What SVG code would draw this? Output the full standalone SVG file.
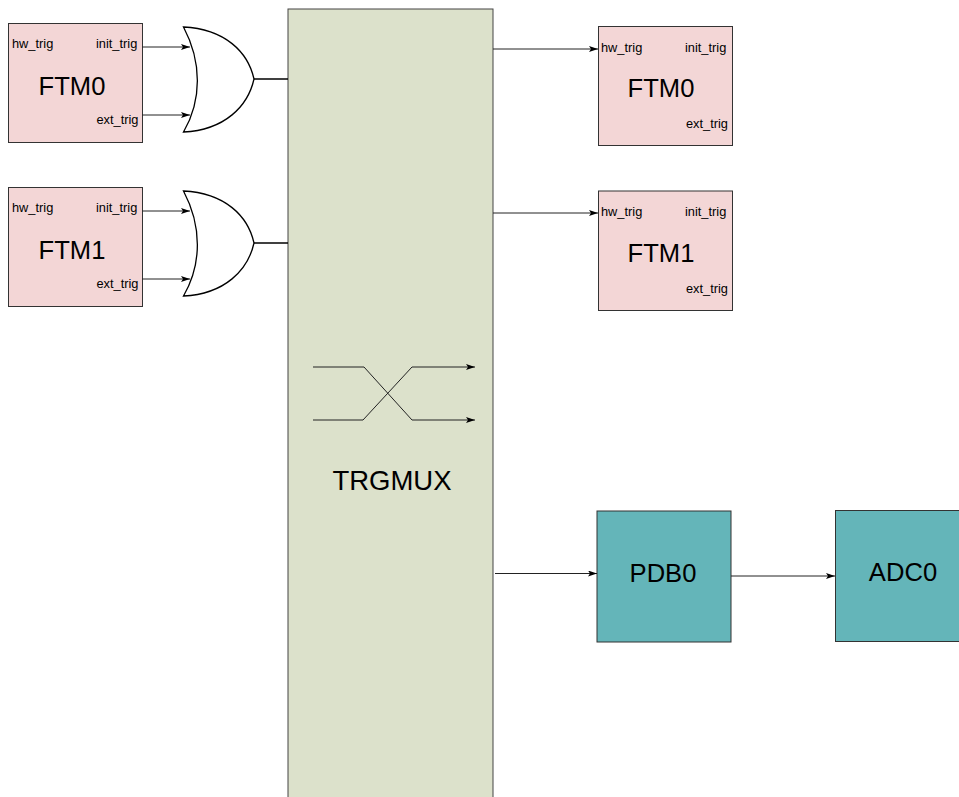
<svg xmlns="http://www.w3.org/2000/svg" width="959" height="797" viewBox="0 0 959 797">
<style>
text{font-family:"Liberation Sans",Arial,sans-serif;fill:#000}
.ftm{fill:#f3d6d6;stroke:#333;stroke-width:1}
.pdb{fill:#64b5b9;stroke:#333;stroke-width:1}
.mux{fill:#dce1cb;stroke:#444;stroke-width:1}
.s{font-size:12.8px}
.b{font-size:25.6px;text-anchor:middle}
.c{fill:none;stroke:#222;stroke-width:1;marker-end:url(#a)}
.w{fill:none;stroke:#000;stroke-width:1.6}
.or{fill:#fff;stroke:#000;stroke-width:1.3}
</style>
<defs>
<marker id="a" markerUnits="userSpaceOnUse" markerWidth="10" markerHeight="6" refX="9" refY="3" orient="auto"><path d="M0 0L9 3L0 6L2 3Z" fill="#000"/></marker>
</defs>
<rect width="959" height="797" fill="#fff"/>
<g id="trgmux"><rect class="mux" x="288" y="9" width="205" height="800"/><text class="b" x="392" y="490" style="font-size:27.5px">TRGMUX</text></g>
<g id="ftm0-src"><rect class="ftm" x="8.500" y="23.500" width="134" height="119"/><text class="s" x="12" y="48">hw_trig</text><text class="s" x="96" y="48">init_trig</text><text class="b" x="72" y="94.500">FTM0</text><text class="s" x="96.500" y="124">ext_trig</text></g>
<g id="ftm1-src"><rect class="ftm" x="8.500" y="187.500" width="134" height="119"/><text class="s" x="12" y="212">hw_trig</text><text class="s" x="96" y="212">init_trig</text><text class="b" x="72" y="258.500">FTM1</text><text class="s" x="96.500" y="288">ext_trig</text></g>
<g id="or0"><path class="or" d="M183.500 27C225 29 248 52 254 79C248 106 225 130 183.500 132C202 100 202 62 183.500 27Z"/></g>
<g id="or1"><path class="or" d="M183.500 191C225 193 248 216 254 243C248 270 225 294 183.500 296C202 264 202 226 183.500 191Z"/></g>
<g id="ftm0-dst"><rect class="ftm" x="598.500" y="26.500" width="134" height="119"/><text class="s" x="601" y="52">hw_trig</text><text class="s" x="685" y="52">init_trig</text><text class="b" x="661" y="97">FTM0</text><text class="s" x="686" y="127.500">ext_trig</text></g>
<g id="ftm1-dst"><rect class="ftm" x="598.500" y="191" width="134" height="119.500"/><text class="s" x="601" y="216">hw_trig</text><text class="s" x="685" y="216">init_trig</text><text class="b" x="661" y="262">FTM1</text><text class="s" x="686" y="292.500">ext_trig</text></g>
<g id="pdb0"><rect class="pdb" x="597" y="511" width="134" height="131"/><text class="b" x="663" y="582">PDB0</text></g>
<g id="adc0"><rect class="pdb" x="835.500" y="510.500" width="134" height="131"/><text class="b" x="903" y="581">ADC0</text></g>
<g id="connectors">
<path class="c" d="M142 47H190"/><path class="c" d="M142 115H190"/>
<path class="c" d="M142 211H190"/><path class="c" d="M142 279H190"/>
<path class="w" d="M254 79H288"/><path class="w" d="M254 243H288"/>
<path class="c" d="M493 49H598"/><path class="c" d="M493 213H598"/>
<path class="c" d="M495 573.500H597"/><path class="c" d="M731 576H835"/>
<path class="c" d="M313 367H364L412 420H475"/><path class="c" d="M313 420H363L412 367H475"/>
</g>
</svg>
